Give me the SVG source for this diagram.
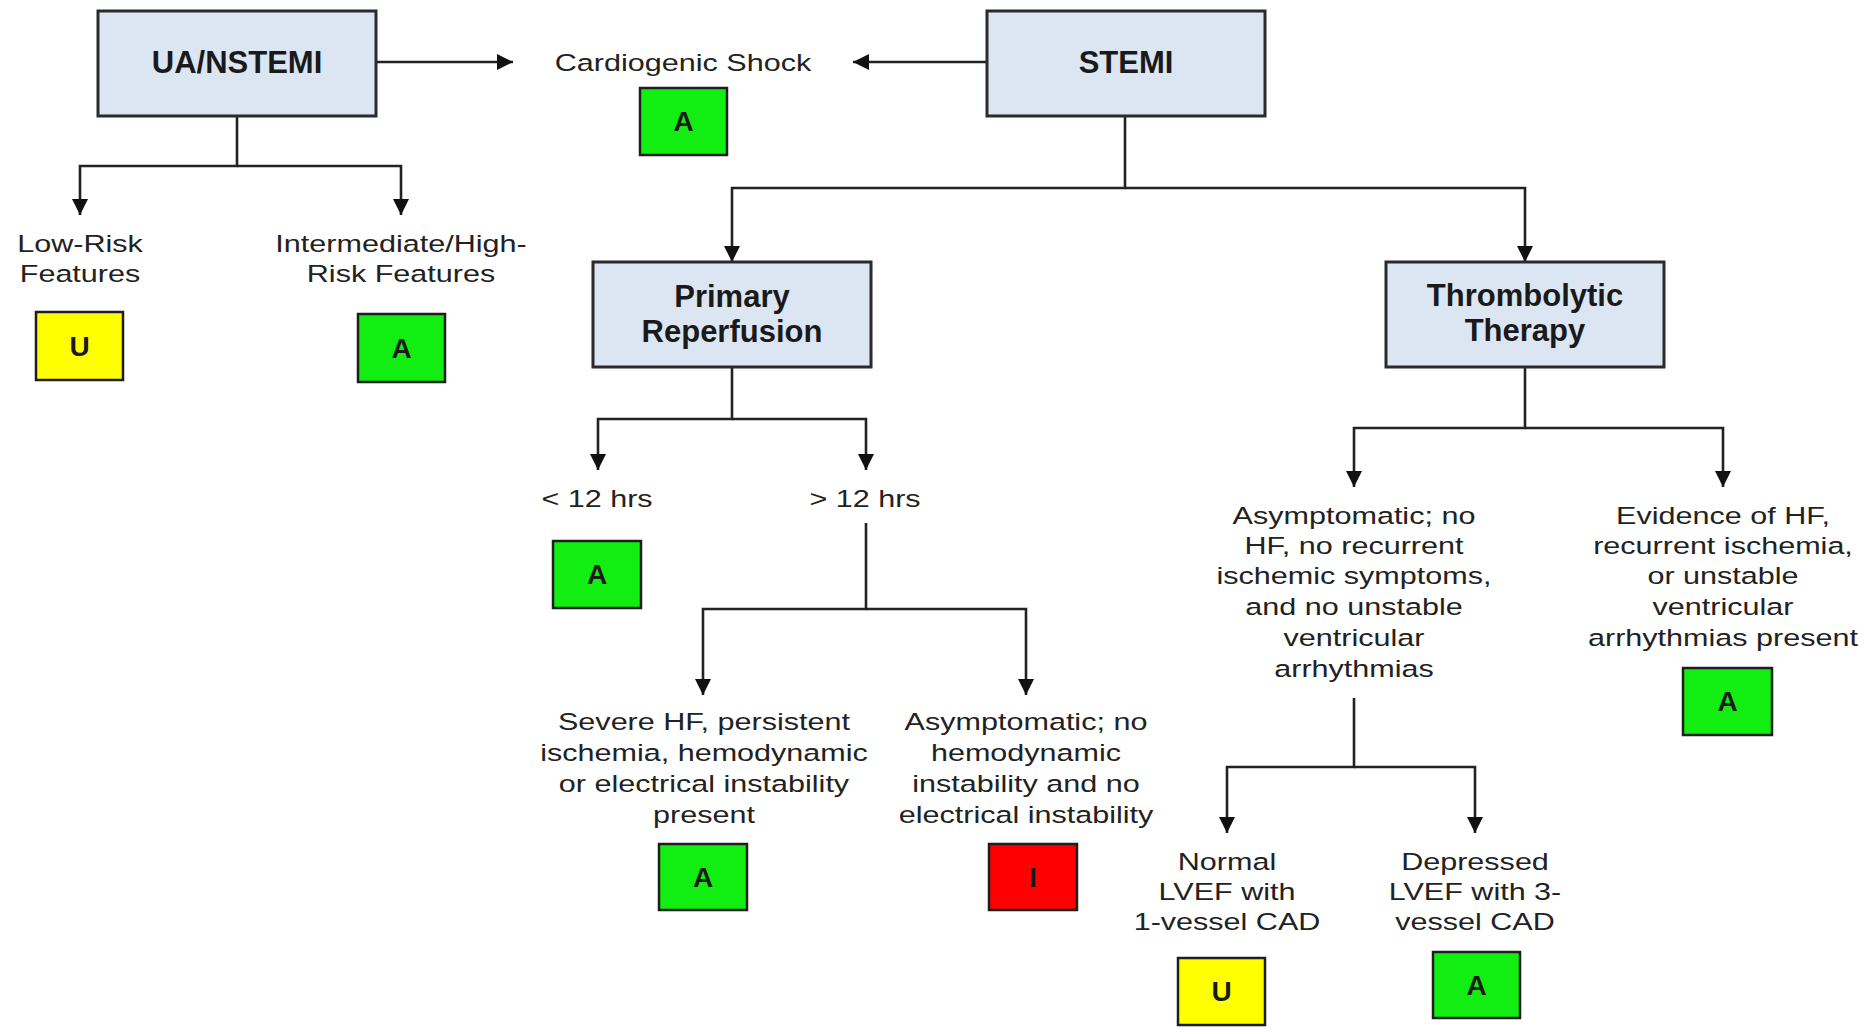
<svg xmlns="http://www.w3.org/2000/svg" width="1865" height="1034" viewBox="0 0 1865 1034">
<defs>
<style>
.box{fill:#dce6f3;stroke:#2b2b2b;stroke-width:3}
.bt{font-family:"Liberation Sans",Arial,sans-serif;font-weight:bold;font-size:31px;fill:#1a1a1a;text-anchor:middle}
.t{font-family:"Liberation Sans",Arial,sans-serif;font-size:23.5px;fill:#222;text-anchor:middle}
.badge{stroke:#1e1e1e;stroke-width:2.5}
.g{fill:#12ee12}
.y{fill:#ffff00}
.r{fill:#ff0000}
.bl{font-family:"Liberation Sans",Arial,sans-serif;font-weight:bold;font-size:28px;fill:#1a1a1a;text-anchor:middle}
.c{fill:none;stroke:#222;stroke-width:2.6;marker-end:url(#ah)}
.cn{fill:none;stroke:#222;stroke-width:2.6}
</style>
<marker id="ah" viewBox="0 0 16 16" refX="16" refY="8" markerWidth="16" markerHeight="16" markerUnits="userSpaceOnUse" orient="auto">
<path d="M0,0 L16,8 L0,16 z" fill="#111"/>
</marker>
</defs>
<rect width="1865" height="1034" fill="#ffffff"/>

<g id="connectors">
<path class="c" d="M376,62 H513"/>
<path class="c" d="M987,62 H853"/>
<path class="c" d="M237,116 V166 H80 V215"/>
<path class="c" d="M237,166 H401 V215"/>
<path class="c" d="M1125,116 V188 H732 V262"/>
<path class="c" d="M1125,188 H1525 V262"/>
<path class="c" d="M732,368 V419 H598 V470"/>
<path class="c" d="M732,419 H866 V470"/>
<path class="c" d="M866,523 V609 H703 V695"/>
<path class="c" d="M866,609 H1026 V695"/>
<path class="c" d="M1525,368 V428 H1354 V487"/>
<path class="c" d="M1525,428 H1723 V487"/>
<path class="c" d="M1354,698 V767 H1227 V833"/>
<path class="c" d="M1354,767 H1475 V833"/>
</g>

<g id="ua-nstemi">
<rect class="box" x="98" y="11" width="278" height="105"/>
<text class="bt" x="237" y="73">UA/NSTEMI</text>
</g>

<g id="stemi">
<rect class="box" x="987" y="11" width="278" height="105"/>
<text class="bt" x="1126" y="73">STEMI</text>
</g>

<g id="cardiogenic-shock">
<text class="t" transform="translate(683,71) scale(1.3,1)">Cardiogenic Shock</text>
<rect class="badge g" x="640" y="88" width="87" height="67"/>
<text class="bl" x="683.5" y="131">A</text>
</g>

<g id="low-risk">
<text class="t" transform="translate(80,0) scale(1.3,1)"><tspan x="0" y="252">Low-Risk</tspan><tspan x="0" y="282">Features</tspan></text>
<rect class="badge y" x="36" y="312" width="87" height="68"/>
<text class="bl" x="79.5" y="356">U</text>
</g>

<g id="intermediate-high-risk">
<text class="t" transform="translate(401,0) scale(1.3,1)"><tspan x="0" y="252">Intermediate/High-</tspan><tspan x="0" y="282">Risk Features</tspan></text>
<rect class="badge g" x="358" y="314" width="87" height="68"/>
<text class="bl" x="401.5" y="358">A</text>
</g>

<g id="primary-reperfusion">
<rect class="box" x="593" y="262" width="278" height="105"/>
<text class="bt"><tspan x="732" y="307">Primary</tspan><tspan x="732" y="342">Reperfusion</tspan></text>
</g>

<g id="thrombolytic-therapy">
<rect class="box" x="1386" y="262" width="278" height="105"/>
<text class="bt"><tspan x="1525" y="306">Thrombolytic</tspan><tspan x="1525" y="341">Therapy</tspan></text>
</g>

<g id="lt-12-hrs">
<text class="t" transform="translate(597,507) scale(1.3,1)">&lt; 12 hrs</text>
<rect class="badge g" x="553" y="541" width="88" height="67"/>
<text class="bl" x="597" y="584">A</text>
</g>

<g id="gt-12-hrs">
<text class="t" transform="translate(865,507) scale(1.3,1)">&gt; 12 hrs</text>
</g>

<g id="severe-hf">
<text class="t" transform="translate(704,0) scale(1.3,1)"><tspan x="0" y="730">Severe HF, persistent</tspan><tspan x="0" y="761">ischemia, hemodynamic</tspan><tspan x="0" y="792">or electrical instability</tspan><tspan x="0" y="823">present</tspan></text>
<rect class="badge g" x="659" y="844" width="88" height="66"/>
<text class="bl" x="703" y="887">A</text>
</g>

<g id="asymptomatic-primary">
<text class="t" transform="translate(1026,0) scale(1.3,1)"><tspan x="0" y="730">Asymptomatic; no</tspan><tspan x="0" y="761">hemodynamic</tspan><tspan x="0" y="792">instability and no</tspan><tspan x="0" y="823">electrical instability</tspan></text>
<rect class="badge r" x="989" y="844" width="88" height="66"/>
<text class="bl" x="1033" y="887">I</text>
</g>

<g id="asymptomatic-thrombolytic">
<text class="t" transform="translate(1354,0) scale(1.3,1)"><tspan x="0" y="524">Asymptomatic; no</tspan><tspan x="0" y="554">HF, no recurrent</tspan><tspan x="0" y="584">ischemic symptoms,</tspan><tspan x="0" y="615">and no unstable</tspan><tspan x="0" y="646">ventricular</tspan><tspan x="0" y="677">arrhythmias</tspan></text>
</g>

<g id="evidence-hf">
<text class="t" transform="translate(1723,0) scale(1.3,1)"><tspan x="0" y="524">Evidence of HF,</tspan><tspan x="0" y="554">recurrent ischemia,</tspan><tspan x="0" y="584">or unstable</tspan><tspan x="0" y="615">ventricular</tspan><tspan x="0" y="646">arrhythmias present</tspan></text>
<rect class="badge g" x="1683" y="668" width="89" height="67"/>
<text class="bl" x="1727.5" y="711">A</text>
</g>

<g id="normal-lvef">
<text class="t" transform="translate(1227,0) scale(1.3,1)"><tspan x="0" y="870">Normal</tspan><tspan x="0" y="900">LVEF with</tspan><tspan x="0" y="930">1-vessel CAD</tspan></text>
<rect class="badge y" x="1178" y="958" width="87" height="67"/>
<text class="bl" x="1221.5" y="1001">U</text>
</g>

<g id="depressed-lvef">
<text class="t" transform="translate(1475,0) scale(1.3,1)"><tspan x="0" y="870">Depressed</tspan><tspan x="0" y="900">LVEF with 3-</tspan><tspan x="0" y="930">vessel CAD</tspan></text>
<rect class="badge g" x="1433" y="952" width="87" height="66"/>
<text class="bl" x="1476.5" y="995">A</text>
</g>
</svg>
